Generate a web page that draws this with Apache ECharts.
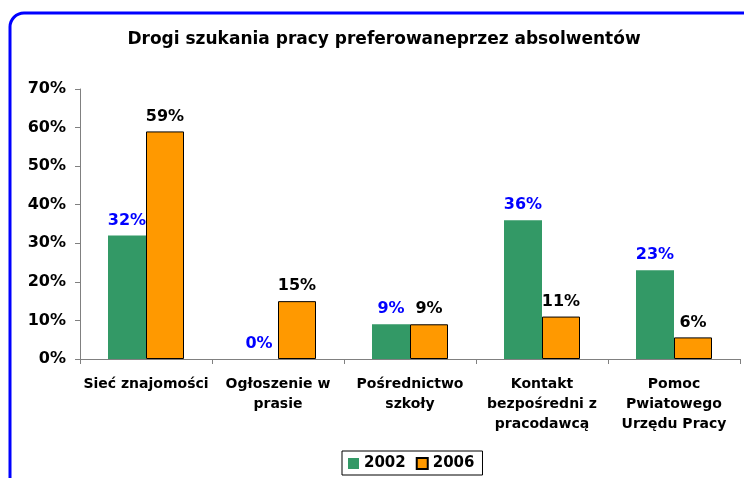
<!DOCTYPE html>
<html>
<head>
<meta charset="utf-8">
<script src="https://cdn.jsdelivr.net/npm/echarts@6/dist/echarts.min.js"></script>
<style>
  html, body { margin: 0; padding: 0; background: #fff; }
  #chart { width: 744px; height: 478px; }
</style>
</head>
<body>
<div id="chart"></div>
<script>
var categories = ['Sieć znajomości', 'Ogłoszenie w\nprasie', 'Pośrednictwo\nszkoły', 'Kontakt\nbezpośredni z\npracodawcą', 'Pomoc\nPwiatowego\nUrzędu Pracy'];
var values2002 = [32, 0, 9, 36, 23];
var values2006 = [59, 15, 9, 11, 5.6];
var yTicks = [0, 10, 20, 30, 40, 50, 60, 70];

var chart = echarts.init(document.getElementById('chart'));
var font = 'Tahoma, "DejaVu Sans", sans-serif';

var option = {
    animation: false,
    title: {
        text: 'Drogi szukania pracy preferowaneprzez absolwentów',
        left: 379,
        textAlign: 'center',
        top: 26,
        textStyle: { fontFamily: font, fontWeight: 'bold', fontSize: 17, color: '#000' }
    },
    graphic: [{
        type: 'rect',
        shape: { x: 10, y: 13, width: 820, height: 600, r: 14 },
        style: { fill: 'none', stroke: '#0000ff', lineWidth: 3 },
        silent: true
    }],
    legend: {
        data: ['2002', '2006'],
        left: 342,
        top: 451,
        icon: 'rect',
        itemWidth: 11,
        itemHeight: 11,
        itemGap: 10,
        padding: [5, 8, 4, 6],
        borderColor: '#000',
        borderWidth: 1,
        textStyle: { fontFamily: font, fontWeight: 'bold', fontSize: 15, color: '#000' }
    },
    grid: { left: 80, right: 4, top: 89, bottom: 119 },
    xAxis: {
        type: 'category',
        data: categories,
        axisLine: { lineStyle: { color: '#808080' } },
        axisTick: { show: true, length: 5, lineStyle: { color: '#808080' } },
        axisLabel: {
            interval: 0,
            margin: 15,
            lineHeight: 20,
            fontFamily: font, fontWeight: 'bold', fontSize: 14, color: '#000'
        }
    },
    yAxis: {
        type: 'value',
        min: 0,
        max: 70,
        interval: 10,
        splitLine: { show: false },
        axisLine: { show: true, lineStyle: { color: '#808080' } },
        axisTick: { show: true, length: 5, lineStyle: { color: '#808080' } },
        axisLabel: {
            margin: 14,
            fontFamily: font, fontWeight: 'bold', fontSize: 16, color: '#000',
            formatter: function (v) { return yTicks.indexOf(v) >= 0 ? v + '%' : ''; }
        }
    },
    series: [
        {
            name: '2002',
            type: 'bar',
            data: values2002,
            barWidth: 38,
            barGap: '0%',
            itemStyle: { color: '#339966' },
            label: {
                show: true,
                position: 'top',
                distance: 7,
                formatter: function (p) { return Math.round(p.value) + '%'; },
                fontFamily: font, fontWeight: 'bold', fontSize: 16, color: '#0000ff'
            }
        },
        {
            name: '2006',
            type: 'bar',
            data: values2006,
            barWidth: 38,
            itemStyle: { color: '#ff9900', borderColor: '#000', borderWidth: 1 },
            label: {
                show: true,
                position: 'top',
                distance: 7,
                formatter: function (p) { return Math.round(p.value) + '%'; },
                fontFamily: font, fontWeight: 'bold', fontSize: 16, color: '#000'
            }
        }
    ]
};
chart.setOption(option);
window.onresize = chart.resize;
</script>
</body>
</html>
